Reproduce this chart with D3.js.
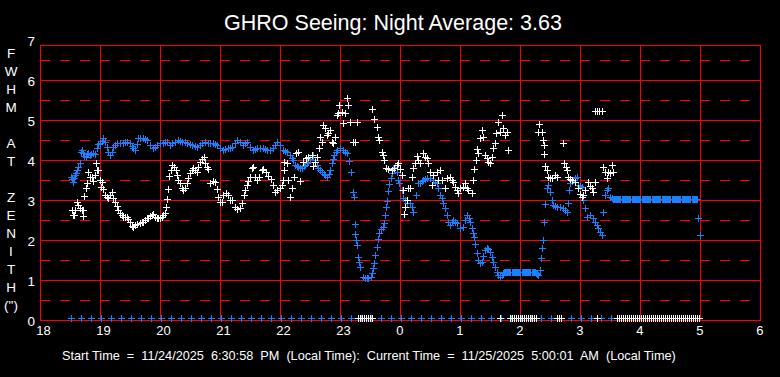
<!DOCTYPE html>
<html>
<head>
<meta charset="utf-8">
<script src="https://cdn.jsdelivr.net/npm/d3@7"></script>
<style>
  body { margin: 0; background: #000; }
  svg { display: block; }
  text { font-family: Arial, "Liberation Sans", sans-serif; fill: #fff; }
</style>
</head>
<body>
<div id="chart"></div>
<script>
// Text
const title = "GHRO Seeing: Night Average: 3.63";
const footer = "Start Time  =  11/24/2025  6:30:58  PM  (Local Time):  Current Time  =  11/25/2025  5:00:01  AM  (Local Time)";
const yLetters = ["F", "W", "H", "M", "", "A", "T", "", "Z", "E", "N", "I", "T", "H", "(\")"];

// Axis ticks (x in minutes after 18:00)
const xTicks = [0, 60, 120, 180, 240, 300, 360, 420, 480, 540, 600, 660, 720];
const xLabels = ["18", "19", "20", "21", "22", "23", "0", "1", "2", "3", "4", "5", "6"];
const yTicks = [0, 1, 2, 3, 4, 5, 6, 7];
const yHalf = [0.5, 1.5, 2.5, 3.5, 4.5, 5.5, 6.5];

// Blue series: [minutes after 18:00, FWHM]
const bluePts = [
  [31,3.58],[32,3.52],[33,3.46],[34,3.55],[35,3.62],[36,3.67],[37,3.75],[38,3.83],[40,3.92],[41,4.21],
  [42,4.24],[43,4.17],[44,4.1],[46,4.08],[47,4.15],[48,4.17],[50,4.12],[51,4.15],[53,4.17],[55,4.14],
  [57,4.3],[58,4.4],[60,4.42],[62,4.48],[63,4.54],[65,4.45],[67,4.33],[68,4.21],[70,4.12],[72,4.2],
  [73,4.33],[75,4.38],[77,4.42],[80,4.42],[83,4.42],[85,4.44],[87,4.46],[90,4.42],[92,4.35],[93,4.29],
  [95,4.25],[97,4.4],[98,4.54],[100,4.54],[103,4.54],[105,4.52],[107,4.5],[110,4.37],[113,4.29],[115,4.33],
  [117,4.37],[120,4.42],[123,4.42],[125,4.44],[127,4.46],[130,4.37],[132,4.42],[135,4.46],[138,4.5],[140,4.48],
  [142,4.46],[145,4.44],[147,4.42],[150,4.4],[152,4.37],[155,4.35],[157,4.33],[160,4.38],[162,4.42],[165,4.46],
  [168,4.42],[170,4.42],[173,4.42],[175,4.4],[177,4.37],[180,4.29],[183,4.25],[185,4.27],[188,4.29],[190,4.31],
  [192,4.33],[195,4.42],[197,4.5],[200,4.46],[203,4.37],[205,4.42],[207,4.46],[210,4.33],[213,4.25],[215,4.27],
  [217,4.29],[220,4.29],[223,4.29],[225,4.27],[227,4.25],[230,4.25],[233,4.29],[235,4.38],[237,4.46],[240,4.37],
  [243,4.25],[245,4.23],[247,4.21],[250,4.12],[252,4.06],[253,4.0],[255,3.87],[257,3.85],[258,3.83],[260,3.81],
  [262,3.79],[264,3.84],[265,3.87],[267,3.92],[268,3.96],[270,4.02],[272,4.08],[273,4.12],[275,4.0],[277,3.88],
  [278,3.79],[280,3.75],[282,3.71],[284,3.65],[285,3.62],[287,3.58],[289,3.66],[290,3.75],[292,3.92],[293,4.02],
  [294,4.12],[296,4.2],[297,4.25],[300,4.29],[303,4.25],[305,4.21],[307,4.17],[309,3.98],[311,3.69],[313,3.21],
  [314,3.08],[314.5,2.39],[315,2.14],[316,2.0],[317,1.87],[318,1.58],[319,1.46],[320,1.33],[323,1.08],[325,1.04],
  [327,1.04],[328,1.04],[331,1.08],[332,1.18],[333,1.31],[334,1.43],[335,1.62],[337,1.82],[338,2.02],[339,2.17],
  [341,2.28],[343,2.33],[344,2.42],[345,2.62],[346,2.82],[347,2.98],[348,3.22],[349,3.39],[351,3.56],[352,3.68],
  [353,3.79],[355,3.82],[357,3.7],[358,3.5],[359,3.42],[362,3.25],[363,3.04],[365,3.0],[367,2.92],[370,2.92],
  [372,2.83],[373,2.71],[376,3.12],[378,3.42],[380,3.42],[382,3.48],[383,3.5],[385,3.52],[387,3.54],[390,3.54],
  [393,3.5],[395,3.46],[397,3.42],[398,3.29],[400,3.12],[402,3.04],[403,2.92],[405,2.79],[407,2.62],[408,2.46],
  [410,2.37],[412,2.44],[413,2.5],[415,2.46],[417,2.42],[420,2.29],[423,2.33],[425,2.5],[427,2.62],[429,2.54],
  [430,2.46],[432,2.29],[433,2.17],[434,2.07],[435,1.9],[437,1.67],[438,1.5],[440,1.42],[442,1.45],[443,1.6],
  [445,1.75],[447,1.79],[448,1.77],[450,1.71],[452,1.58],[453,1.46],[455,1.33],[457,1.21],[458,1.12],[460,1.08],
  [462,1.12],[463,1.17],[464,1.19],[465,1.2],[466,1.2],[467,1.21],[468,1.2],[469,1.19],[470,1.19],[472,1.19],
  [473,1.19],[474,1.19],[475,1.19],[476,1.19],[477,1.19],[478,1.19],[479,1.19],[480,1.19],[482,1.19],[483,1.19],
  [484,1.19],[485,1.19],[486,1.19],[487,1.19],[488,1.19],[489,1.19],[490,1.19],[492,1.19],[493,1.19],[494,1.19],
  [495,1.19],[496,1.17],[497,1.15],[498,1.12],
  [500,1.25],[501,1.54],[502,1.8],[503,2.0],[504,2.46],[505,2.89],[507,3.29],[508,3.37],[510,3.21],[512,3.0],
  [513,2.87],[515,2.84],[517,2.82],[520,2.82],[523,2.79],[525,2.75],[527,2.71],[528,2.92],[529,3.25],[530,3.42],
  [532,3.48],[533,3.5],[535,3.54],[537,3.58],[538,3.37],[540,3.35],[542,3.33],[543,3.0],[545,2.79],[547,2.58],
  [550,2.62],[553,2.54],[555,2.46],[557,2.37],[558,2.29],[560,2.21],[562,2.12],[563,2.71],[565,3.12],[567,3.25],
  [568,3.29],[570,3.08],[572,3.04],[573,3.02],[574,3.02],[575,3.02],[576,3.02],[577,3.02],[578,3.02],[579,3.02],
  [580,3.02],[582,3.02],[583,3.02],[584,3.02],[585,3.02],[586,3.02],[587,3.02],[588,3.02],[589,3.02],[590,3.02],
  [592,3.02],[593,3.02],[594,3.02],[595,3.02],[596,3.02],[597,3.02],[598,3.02],[599,3.02],[600,3.02],
  [602,3.02],[603,3.02],[604,3.02],[605,3.02],[606,3.02],[607,3.02],[608,3.02],[609,3.02],[610,3.02],
  [612,3.02],[613,3.02],[614,3.02],[615,3.02],[616,3.02],[617,3.02],[618,3.02],[619,3.02],[620,3.02],
  [622,3.02],[623,3.02],[624,3.02],[625,3.02],[626,3.02],[627,3.02],[628,3.02],[629,3.02],[630,3.02],
  [632,3.02],[633,3.02],[634,3.02],[635,3.02],[636,3.02],[637,3.02],[638,3.02],[639,3.02],[640,3.02],
  [642,3.02],[643,3.02],[644,3.02],[645,3.02],[646,3.02],[647,3.02],[648,3.02],[649,3.02],[650,3.02],
  [652,3.02],[653,3.02],[654,3.02],[655,3.02],[656,3.02],[657,3.02],[658,2.54],[660,2.12]
];

// White series: [minutes after 18:00, FWHM]
const whitePts = [
  [32,2.75],[33,2.62],[34,2.62],[35,2.75],[37,2.96],[38,2.88],[40,2.79],[42,2.75],[42.5,2.61],[43,2.75],
  [44,3.1],[46,3.29],[47,3.43],[48,3.71],[50,3.58],[52,3.58],[53,3.47],[55,3.62],[55.5,3.93],[57,3.75],
  [58,3.75],[60,3.5],[61,3.33],[62,3.46],[63,3.27],[65,3.12],[67,3.07],[68,3.04],[70,3.12],[72,3.21],
  [73,3.04],[75,2.96],[77,2.85],[78,2.75],[80,2.67],[82,2.62],[83,2.57],[85,2.57],[87,2.58],[88,2.52],
  [90,2.46],[92,2.35],[93,2.33],[95,2.37],[97,2.4],[100,2.42],[102,2.44],[103,2.46],[105,2.5],[107,2.54],
  [108,2.56],[110,2.6],[112,2.63],[113,2.65],[115,2.58],[117,2.56],[118,2.54],[120,2.56],[122,2.58],[123,2.62],
  [125,2.67],[126,2.82],[127,3.02],[128,3.27],[129,3.6],[131,3.75],[132,3.87],[134,3.83],[136,3.75],[137,3.62],
  [138,3.5],[140,3.42],[142,3.3],[143,3.25],[145,3.29],[147,3.42],[148,3.54],[150,3.67],[152,3.75],[153,3.79],
  [155,3.75],[157,3.71],[158,3.83],[160,3.96],[162,4.02],[164,4.08],[165,3.92],[167,3.83],[168,3.77],[170,3.42],
  [173,3.48],[175,3.46],[177,3.27],[178,3.08],[180,2.96],[182,2.96],[183,3.12],[186,3.17],[188,3.12],[190,3.0],
  [192,3.0],[195,2.82],[197,2.77],[200,2.79],[202,2.92],[204,3.12],[205,3.25],[207,3.37],[208,3.48],[210,3.58],
  [212,3.79],[213,3.83],[215,3.58],[217,3.5],[219,3.58],[222,3.75],[223,3.77],[226,3.71],[228,3.6],[231,3.52],
  [233,3.37],[235,3.21],[237,3.25],[240,3.29],[242,3.37],[243,3.5],[243.5,3.75],[244,3.96],[247,3.92],[248,3.5],
  [250,3.08],[252,3.29],[254,3.57],[256,4.18],[258,4.21],[260,3.47],[263,3.96],[266,4.04],[268,4.08],[272,4.12],
  [273,3.85],[275,3.95],[277,4.07],[279,4.29],[280,4.57],[282,4.46],[283,4.87],[285,4.79],[287,4.62],[288,4.67],
  [290,4.75],[292,4.46],[293,4.42],[295,4.58],[297,5.12],[298,5.17],[299,5.37],[302,5.21],[303,4.92],[305,5.17],
  [307,5.54],[308,5.37],[310,4.96],[313,4.46],[315,4.46],[317,4.96],
  [332,5.27],[334,5.02],[337,4.83],[338,4.57],[339,4.5],[342,4.21],[343,4.12],[344,4.0],[346,3.79],[348,3.77],
  [352,3.75],[354,3.79],[357,3.87],[358,3.93],[360,3.77],[362,3.62],[363,3.25],[364,2.64],[365,2.83],[367,3.0],
  [368,3.29],[370,3.29],[372,3.57],[373,3.79],[375,3.92],[377,4.1],[378,4.0],[380,3.92],[383,4.17],[385,4.08],
  [387,4.04],[388,3.92],[390,3.71],[392,3.37],[393,3.62],[397,3.71],[398,3.5],[400,3.75],[402,3.5],[405,3.29],
  [407,3.54],[410,3.58],[412,3.5],[413,3.46],[415,3.33],[417,3.25],[418,3.17],[420,3.29],[423,3.33],[425,3.42],
  [427,3.29],[428,3.25],[432,3.17],[433,3.5],[434,3.77],[436,4.0],[437,4.27],[438,4.17],[440,4.54],[442,4.75],
  [443,4.58],[445,4.12],[447,4.04],[448,3.96],[450,3.92],[452,4.08],[453,4.29],[455,4.42],[456,4.67],[458,4.96],
  [460,4.71],[462,5.12],[463,4.79],[465,4.62],[467,4.71],[468,4.25],
  [498,4.71],[499,4.9],[502,4.71],[503,4.5],[503.5,4.37],[504,4.15],[505,3.85],[507,3.75],[508,3.58],[510,3.56],
  [512,3.54],[515,3.62],[517,3.58],[523,4.43],[524,3.92],[526,3.83],[527,3.75],[528,3.58],[530,3.52],[532,3.5],
  [535,3.46],[538,3.29],[540,3.15],[542,3.08],[543,3.12],[545,3.25],[548,3.46],[550,3.35],[552,3.29],[553,3.21],
  [555,3.46],[555,5.23],[557,5.23],[559,5.23],[562,5.23],[563,3.83],[565,3.71],[567,3.54],[568,3.71],[570,3.67],
  [572,3.87],[573,3.71]
];

// Samples plotted at zero (minutes after 18:00)
const blueZeroMin = [31,41,51,61,71,81,91,101,111,121,131,141,151,161,171,181,191,201,211,221,231,241,251,261,
  271,281,291,301,311,321,331,341,351,361,371,381,391,401,411,421,431,441,451,461,471,481,491,501,511,521,531,
  541,551,561,571,581,591,601,611,621,631,641,651];
const whiteZeroMin = [318,320,322,324,326,328,330,332,460,470,472,474,476,478,480,482,484,486,488,490,492,494,496,
  517,519,521,557,577,579,581,583,585,587,589,591,593,595,597,599,601,603,605,607,609,611,613,615,617,619,621,
  623,625,627,629,631,633,635,637,639,641,643,645,647,649,651,653,655,657,659];

const width = 780, height = 377;
const plotTop = 45;

const svg = d3.select("#chart").append("svg")
  .attr("width", width)
  .attr("height", height)
  .style("background", "#000");

const x = d3.scaleLinear().domain([0, 720]).range([40, 760]);
const y = d3.scaleLinear().domain([0, 7]).range([320, 40]);

const red = "#ff0000";
const grid = svg.append("g").attr("shape-rendering", "crispEdges").attr("stroke", red).attr("stroke-width", 1);

// dashed half lines
grid.selectAll("line.half").data(yHalf).enter().append("line")
  .attr("x1", x(0)).attr("x2", x(720))
  .attr("y1", d => Math.round(y(d)) + 0.5).attr("y2", d => Math.round(y(d)) + 0.5)
  .attr("stroke-dasharray", "10,10");

// solid lines at integer values
grid.selectAll("line.full").data(yTicks.filter(d => d > 0 && d < 7)).enter().append("line")
  .attr("x1", x(0)).attr("x2", x(720))
  .attr("y1", d => Math.round(y(d)) + 0.5).attr("y2", d => Math.round(y(d)) + 0.5);

// vertical hour lines
grid.selectAll("line.v").data(xTicks).enter().append("line")
  .attr("x1", d => x(d) + 0.5).attr("x2", d => x(d) + 0.5)
  .attr("y1", plotTop).attr("y2", y(0) + 1);

// frame top and bottom
grid.append("line").attr("x1", x(0)).attr("x2", x(720) + 1).attr("y1", plotTop + 0.5).attr("y2", plotTop + 0.5);
grid.append("line").attr("x1", x(0)).attr("x2", x(720) + 1).attr("y1", y(0) + 0.5).attr("y2", y(0) + 0.5);

// plus markers (7 px wide)
function plus(px, py) {
  const cx = Math.round(px), cy = Math.round(py);
  return `M${cx - 3},${cy + 0.5}h7M${cx + 0.5},${cy - 3}v7`;
}

function drawPts(data, color, yOff) {
  svg.append("path")
    .attr("d", data.map(d => plus(x(d[0]), y(d[1]) + yOff)).join(""))
    .attr("stroke", color)
    .attr("stroke-width", 1)
    .attr("fill", "none")
    .attr("shape-rendering", "crispEdges");
}

const blue = "#1a80ff";
drawPts(bluePts, blue, 0);
drawPts(blueZeroMin.map(m => [m, 0]), blue, -2);
drawPts(whitePts, "#ffffff", 0);
drawPts(whiteZeroMin.map(m => [m, 0]), "#ffffff", -2);

// title
svg.append("text")
  .attr("x", 393).attr("y", 29.5)
  .attr("text-anchor", "middle")
  .style("font-size", "21.5px")
  .text(title);

// y tick labels
svg.selectAll("text.yl").data(yTicks).enter().append("text")
  .attr("x", 35).attr("y", d => y(d) + 5.5)
  .attr("text-anchor", "end")
  .style("font-size", "13.5px")
  .text(d => d);

// x tick labels
svg.selectAll("text.xl").data(xTicks).enter().append("text")
  .attr("x", d => x(d) - 3.7).attr("y", 335)
  .style("font-size", "13px")
  .text((d, i) => xLabels[i]);

// vertical letter label
svg.selectAll("text.lt").data(yLetters).enter().append("text")
  .attr("x", 11).attr("y", (d, i) => 58.3 + 18 * i)
  .attr("text-anchor", "middle")
  .style("font-size", "13.5px")
  .text(d => d);

// footer
svg.append("text")
  .attr("x", 62).attr("y", 359.5)
  .style("font-size", "12.7px")
  .style("white-space", "pre")
  .text(footer);
</script>
</body>
</html>
